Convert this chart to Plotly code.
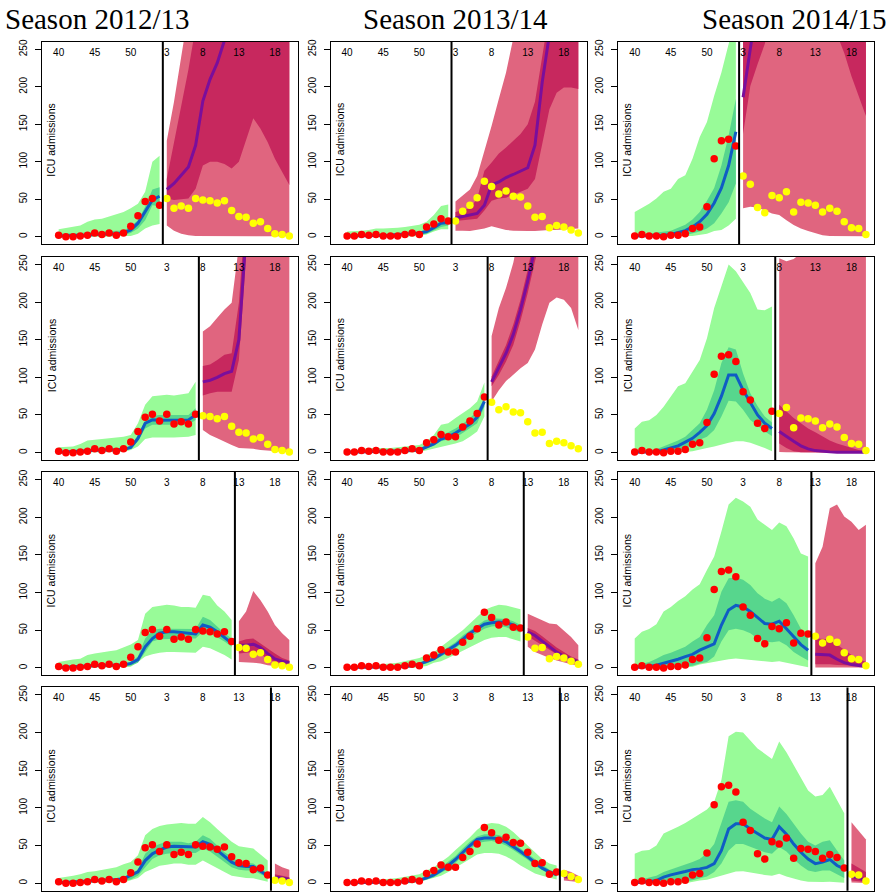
import plotly.graph_objects as go

# ---------------- data ----------------
WEEK_IDX = list(range(33))          # weeks 40..52, 1..20
TICK_IDX = [0, 5, 10, 15, 20, 25, 30]
TICK_LABELS = ["40", "45", "50", "3", "8", "13", "18"]
SEASONS = ["Season 2012/13", "Season 2013/14", "Season 2014/15"]
Y_TICKS = [0, 50, 100, 150, 200, 250]

OBS_1213 = [2,0,0,1,2,5,3,5,2,5,14,28,47,51,42,51,38,41,38,51,49,48,45,48,35,27,26,18,20,11,4,3,1]
OBS_1314 = [1,1,3,2,3,1,1,1,3,5,3,13,17,24,21,21,34,42,52,74,67,57,61,54,53,41,26,27,12,15,13,9,5]
OBS_1415 = [1,3,1,1,0,2,2,4,11,13,40,104,128,130,121,81,70,39,32,55,52,60,33,46,45,42,33,38,34,20,12,11,3]
OBS = [OBS_1213, OBS_1314, OBS_1415]

CUTS = [14, 19, 24, 29]   # last week index used for fitting, per row

# fitted bands (weeks 0..cut): hi95, hi50, med, lo50, lo95
FIT_R1C1 = dict(hi95=[10,12,13,15,20,23,24,27,30,33,38,44,60,100,108],
                hi50=[4,4,5,5,6,6,7,7,8,8,14,22,40,63,66],
                med=[1,1,1,2,2,3,3,4,4,5,9,18,33,49,54],
                lo50=[0,0,0,0,1,1,1,1,2,2,5,11,22,42,41],
                lo95=[0,0,0,0,0,0,0,0,0,1,1,4,11,15,17])
FIT_R1C2 = dict(hi95=[7,7,8,9,11,11,11,12,13,15,16,20,29,41,43],
                hi50=[3,3,4,4,4,4,4,5,5,6,7,9,14,22,23],
                med=[1,1,1,2,2,2,2,3,3,4,5,7,12,18,19],
                lo50=[0,0,0,0,1,1,1,1,1,2,3,4,8,13,15],
                lo95=[0,0,0,0,0,0,0,0,0,0,1,3,7,10,10])
FIT_R1C3 = dict(hi95=[33,38,44,51,60,64,77,82,104,133,153,188,219,257,300],
                hi50=[2,3,4,5,6,8,12,16,23,33,48,65,95,135,184],
                med=[1,1,1,1.5,2,3,5,8,13,20,30,45,65,95,140],
                lo50=[0,0,0,0,0,0,1,2,4,7,11,18,31,46,71],
                lo95=[0,0,0,0,0,0,0,1,1,2,4,7.5,9,15,24])
FIT_R2C1 = dict(hi95=[7,8,8,11.5,16,17,18,19,20,21,23.5,39,63.5,75,76,77,76,78,79,94],
                hi50=[2,2,2.5,3,4,5,5,5,6,6,9,23.5,43.5,49,50,50,50,50,50,59],
                med=[0.5,1,1,1.5,3,3.5,3.5,3.5,4,4,7,19,39,43.5,43,43,43.5,43.5,43.5,50],
                lo50=[0,0,0,0.5,1,1.5,2,2,2,3,5,15,32,37,37,37,37,37,37,43.5],
                lo95=[0,0,0,0,0,0.5,0.5,0.5,1,1,3.5,8,18,20,20,20,20,20,21,23.5])
FIT_R2C2 = dict(hi95=[2,3.5,4.5,6,6,6,6,7,8,9,10,15,23.5,37,39,46,52,59,68,93],
                hi50=[1,1.5,2,2.5,3,3,3,3.5,4,4,5,10,15,23.5,27,32,38,46,55,72],
                med=[0.5,0.7,1,1,1,1.3,1.5,2,2.5,2.7,3.5,8,11.5,18,21,26,32,38,47,68],
                lo50=[0,0,0,0.5,0.5,0.5,1,1,1,1.5,2,6,9,15,17,20,26,32,39,61],
                lo95=[0,0,0,0,0,0,0,0,0,0.5,1,3,6,8,10,12,15,21,28,48])
FIT_R2C3 = dict(hi95=[32,41,43,50,61,75,88,92,108,123,152,192,221,250,241,226,212,190,189,194],
                hi50=[1.5,2,3,4.5,8,12,16,21,30,39,57,83,119,140,137,105,79,62,48,40],
                med=[0.5,0.5,1,1,3.5,6,9,14,19,27,36,52,75,103,103,83,66,50,39,32],
                lo50=[0,0,0,0,0.5,1,2,6,10,17,21,30,48,69,68,57,43.5,36,28,22],
                lo95=[0,0,0,0,0,0,0.5,1,2,3.5,6,8,11,13,15,15,13,10,6,2])
FIT_R3C1 = dict(hi95=[8,10,11,12,17,19,20,22,23.5,27,31,37,72,81,83,84,83,81,81,80,97,95,83,75,63.5],
                hi50=[2,3,3,3.5,4,5,5,5.5,6,6,8,15,39,50,52,52,52,52,52,51.5,68,63.5,55,46,39],
                med=[0.5,1,1,1.5,2,3.5,3.5,3.5,3.5,4,6,11,28,39,46,48,48,47,46,45,57,54,48,41,33],
                lo50=[0,0,0,0.5,1,1.5,2,2,2,2.5,3,7,21,35,38,39,39,39,39,39,48,46,41,35,28],
                lo95=[0,0,0,0,0,0.5,0.5,0.5,1,1,1.5,8,15,18,20,21,21,21,20.5,20,28,26,21,17,11])
FIT_R3C2 = dict(hi95=[2,2.5,3,3.5,4,5,6,7,9,11,13,17,21,28,35,43,50,59,68,77,81,84,83,81,78],
                hi50=[1,1,1,1.5,1.5,2,2,2.5,3,4,6.5,10,15,21,27,34,43,50,57,63,66,66,65,62,57],
                med=[0.5,0.5,0.5,0.7,0.8,1,1.2,1.5,2,3,5,8,12,18,23.5,30,38,46,52,58,60,61,60,57,52],
                lo50=[0,0,0,0,0.3,0.5,0.7,1,1.3,2,3.5,6,10,15,20,26,33,41,47,52,55,56,54,51,47],
                lo95=[0,0,0,0,0,0,0,0,0,0,1,2.5,7,9,13,18,22,28,32,37,40,41,41,38,35])
FIT_R3C3 = dict(hi95=[39,48,51.5,58,75,81,89,95,104,111,130,148,181,217,226,221,214,197,190,183,193,188,172,152,148],
                hi50=[3,5,8,12,17,20,23.5,28,35,41,57,70,101,119,120,117,110,99,92,88,93,86,70,52,43.5],
                med=[0.5,1,2,3.5,6,9,11.5,15,18,23.5,28,32,57,77,83,81,75,67,59,58,62,52,41,31,23.5],
                lo50=[0,0,0,0.5,1,1.5,2,2,3,6,8,15,35,50,52,50,46,39,35,34,35.5,30,21,15,10],
                lo95=[0,0,0,0,0,0,0,0.5,1.5,4.5,6,8,10,11.5,12.5,12.5,11.5,10,9,8,9,7,5,2.7,1])
FIT_R4C1 = dict(hi95=[7,8,10,12,15,16,18,19,21,25,28,37,63.5,72,76,78,79,80,79,79,88,81,72,63.5,55,49,47,46,38,30],
                hi50=[2,2.5,3,3.5,4,4.5,5,5.5,6,7,12,18,39,48,52,55,55,55,53,55,63.5,59,50,41,35,28,27,26,20,13],
                med=[0.5,1,1,1.5,2,3,3.5,4,5,6,10,15,30,39,44,48,49,48.5,48,48,55,51.5,43.5,35.5,28,23.5,22,22,16,10],
                lo50=[0,0,0,0.5,1,1.5,2,2.5,3,3.5,5,10,21,32,37,39,40,40,40,40,46,42,35,28,21,18,17,17,11.5,7],
                lo95=[0,0,0,0,0,0.5,0.5,1,1,1,3.5,7,15,19,23,24.5,26,26,24.5,24.5,30,26,20,15,10,8,7,6.5,4.5,2])
FIT_R4C2 = dict(hi95=[2,2.5,3,3.5,4,5,6,7,9,10,12,17,21,28,35,44,52,61,71,78,80,79,75,68,59,50,41,32,26,23.5],
                hi50=[1,1,1,1.5,1.5,2,2,2.5,3,4,6,9,14,21,28,36,46,55,62,65,65,64,60,54,46,39,31,24,18,14],
                med=[0.5,0.5,0.5,0.7,0.8,1,1.2,1.5,2,3,4,7,11,17,23.5,31.5,41,50,58,60,60,59,55,49,42,35,27,20,15,11.5],
                lo50=[0,0,0,0,0.3,0.5,0.7,1,1.3,2,3,5,8,14,19,27,36,45,53,55,56,54,50,44,38,31,23,17,12,9],
                lo95=[0,0,0,0,0,0,0,0,0,0,1.5,3.5,7,10,15,20,26,32,38,40,40,39,35.5,30,23.5,18,13,10,7,5])
FIT_R4C3 = dict(hi95=[39,43,44,50,66,70,75,80,86,91,98,108,137,195,201,200,190,179,172,165,188,174,157,139,123,115,117,128,110,93],
                hi50=[3,5,7,10,15,18,21,25,28,32,40,52,81,108,110,108,99,92,86,81,102,92,79,66,55,50,55,57,43.5,30],
                med=[0.5,1,2,3.5,8,11,13,15.5,18,19,21,26,43.5,72,79,79,72,66,60,58,75,65,52,41,32,26,28,31.5,23.5,19],
                lo50=[0,0,0,0.5,1,1.5,2,2,4,7,9,15,26,43.5,52,52,49,45,41,39,48,42,32,23.5,17,15,17,17,12.5,7],
                lo95=[0,0,0,0,0,0,0,0,2,3.5,4.5,7,10,13,15.5,16,15,12.5,11,10,12.5,9,6,3.5,2,1.5,1.5,2,1,0.5])

# forecast bands (weeks cut+1..32)
FC_R1C1 = dict(hi95=[128,180,240,300,400,450,500,520,540,560,580,600,620,640,660,680,700,720],
               hi50=[77,126,175,223,280,320,350,380,400,420,440,460,480,500,520,540,560,580],
               med=[63,71,82,93,122,181,210,232,262,290,310,330,350,370,390,400,410,420],
               lo50=[51,49,50,51,64,95,100,100,97,91,100,130,158,144,126,104,86,69],
               lo95=[15,8,4,2,1,0.5,0.5,0.5,0.5,0.5,0.5,0.5,0.5,0.5,0.5,0.5,0.5,0.5])
FC_R1C2 = dict(hi95=[47,55,63,81,113,148,184,219,265,320,360,400,440,480,520,560,600,640],
               hi50=[33,35,38,51,88,99,111,119,128,137,150,180,240,300,330,350,370,390],
               med=[25,27,29,31,42,69,73,79,83,87,92,122,206,270,300,320,340,360],
               lo50=[21,22,23,24,35,48,51,52,55,60,64,77,122,170,192,199,199,197],
               lo95=[8,8,7.5,9,11,14,11,9,8,7.5,7.5,7.5,8,9,9,9,10,11])
FC_R1C3 = dict(hi95=[600,660,720,780,840,900,940,980,1000,1020,1040,1060,1080,1100,1120,1140,1160,1180],
               hi50=[400,450,500,550,600,620,640,660,680,700,720,740,760,780,800,820,840,860],
               med=[186,262,320,380,420,450,470,490,500,510,520,530,540,550,560,570,580,590],
               lo50=[137,201,230,257,300,320,330,330,320,310,300,290,280,270,245,214,188,161],
               lo95=[38,40,39,35,31,29,22,15.5,11,7.5,4.4,2,1,0.5,0.5,0.5,0.5,0.5])
FC_R2C1 = dict(hi95=[161,168,179,190,199,300,400,450,500,550,600,650,700],
               hi50=[115,117,123,130,132,199,330,370,400,430,450,470,490],
               med=[94,96,100,105,108,150,290,330,360,390,410,430,450],
               lo50=[76,79,81,81,81,123,261,290,320,350,370,390,410],
               lo95=[30,23.5,19,15,10,6,5.5,5,3.5,3,2,1,0.5])
FC_R2C2 = dict(hi95=[155,192,219,252,300,350,400,450,500,550,600,650,700],
               hi50=[101,121,143,170,203,243,300,340,380,420,450,480,510],
               med=[94,112,132,157,190,228,280,320,360,400,430,460,490],
               lo50=[88,103,121,143,175,212,254,290,330,370,400,430,460],
               lo95=[68,83,95,103,112,119,137,170,199,206,203,192,163])
FC_R2C3 = dict(hi95=[258,254,257,265,270,270,270,270,270,270,270,270,270],
               hi50=[63.5,55,46,39,32,27,21,16,12,9,6,3.5,2],
               med=[28,21,15,9,5,2.7,1.5,1,0.5,0.5,0.5,0.5,0.5],
               lo50=[12,6,2,0.5,0.5,0.3,0.2,0.2,0.2,0.2,0.2,0.2,0.2],
               lo95=[1,0.5,0.5,0,0,0,0,0,0,0,0,0,0])
FC_R3C1 = dict(hi95=[62,75,102,90,75,57,46,37],
               hi50=[35,38,39,32,26,19,13,10],
               med=[30,30,31.5,27,19,12,9,7],
               lo50=[19,20,21,18,12,8,6,4.5],
               lo95=[8,8,7,6,3.5,2.5,1.5,1])
FC_R3C2 = dict(hi95=[72,68,63.5,59,58,50,41,30],
               hi50=[53,49,42,34,27,21,15,11],
               med=[48,43,35.5,28,21,15.5,11.5,8],
               lo50=[42,37,30,24,18,13,9,6],
               lo95=[28,21,17,13,10,7,5,2.7])
FC_R3C3 = dict(hi95=[139,161,212,217,201,194,183,190],
               hi50=[39,39,38,31,23.5,17,12,8],
               med=[18,17,17,11.5,7,4.5,3,2],
               lo50=[5,5,5,4,3.5,3,2.7,2.5],
               lo95=[0.5,0.5,0.5,0.5,0.5,0.5,0.5,0.5])
FC_R4C1 = dict(hi95=[26,21,18], hi50=[12,10,8], med=[8,7,5], lo50=[5,4.5,3.5], lo95=[3,2,1.5])
FC_R4C2 = dict(hi95=[18,15,10], hi50=[12,10,7], med=[10,8,5], lo50=[7,5,3], lo95=[3.5,2.5,1.5])
FC_R4C3 = dict(hi95=[81,70,58], hi50=[26,21,15], med=[9,7,3.5], lo50=[3.5,2.5,1.5], lo95=[1,0.5,0.3])

FITS = [[FIT_R1C1, FIT_R1C2, FIT_R1C3], [FIT_R2C1, FIT_R2C2, FIT_R2C3],
        [FIT_R3C1, FIT_R3C2, FIT_R3C3], [FIT_R4C1, FIT_R4C2, FIT_R4C3]]
FCS = [[FC_R1C1, FC_R1C2, FC_R1C3], [FC_R2C1, FC_R2C2, FC_R2C3],
       [FC_R3C1, FC_R3C2, FC_R3C3], [FC_R4C1, FC_R4C2, FC_R4C3]]

# ---------------- style ----------------
LIGHT_GREEN = "#98FB98"
DARK_GREEN = "#57D68D"
BLUE = "#0F5CC4"
LIGHT_PINK = "#E0657F"
DARK_PINK = "#C7285E"
PURPLE = "#7A0E9C"
RED = "#FF0000"
YELLOW = "#FFFF00"
SANS = "Liberation Sans, Arial, sans-serif"
SERIF = "Liberation Serif, Times New Roman, serif"

W, H = 890, 894
COL_PX = [(42.3, 297.7), (330.7, 586.7), (618.3, 874.3)]
ROW_PX = [(39, 242), (254.7, 458.7), (470.7, 674.7), (686.7, 890.7)]
X_RANGE = [-2.27, 33.16]
Y_RANGE = [-10, 260]

fig = go.Figure()


def band(xs, hi, lo, color, xa, ya):
    return go.Scatter(x=xs + xs[::-1], y=hi + lo[::-1], fill="toself", mode="lines",
                      line=dict(width=0), fillcolor=color, hoverinfo="skip",
                      showlegend=False, xaxis=xa, yaxis=ya)


layout_axes = {}
annotations = []
shapes = []
for r in range(4):
    cut = CUTS[r]
    for c in range(3):
        k = r * 3 + c + 1
        xa = "x" if k == 1 else f"x{k}"
        ya = "y" if k == 1 else f"y{k}"
        fit = FITS[r][c]
        fc = FCS[r][c]
        obs = OBS[c]
        xf = WEEK_IDX[:cut + 1]
        xp = WEEK_IDX[cut + 1:]
        for key in fit:
            assert len(fit[key]) == len(xf), (r, c, key, len(fit[key]))
        for key in fc:
            assert len(fc[key]) == len(xp), (r, c, key, len(fc[key]))

        fig.add_trace(band(xf, fit["hi95"], fit["lo95"], LIGHT_GREEN, xa, ya))
        fig.add_trace(band(xf, fit["hi50"], fit["lo50"], DARK_GREEN, xa, ya))
        fig.add_trace(go.Scatter(x=xf, y=fit["med"], mode="lines", line=dict(color=BLUE, width=3),
                                 showlegend=False, xaxis=xa, yaxis=ya))
        fig.add_trace(go.Scatter(x=xf, y=obs[:cut + 1], mode="markers",
                                 marker=dict(color=RED, size=7.5, line=dict(width=0)),
                                 showlegend=False, xaxis=xa, yaxis=ya))
        fig.add_trace(band(xp, fc["hi95"], fc["lo95"], LIGHT_PINK, xa, ya))
        fig.add_trace(band(xp, fc["hi50"], fc["lo50"], DARK_PINK, xa, ya))
        fig.add_trace(go.Scatter(x=xp, y=fc["med"], mode="lines", line=dict(color=PURPLE, width=3),
                                 showlegend=False, xaxis=xa, yaxis=ya))
        fig.add_trace(go.Scatter(x=xp, y=obs[cut + 1:], mode="markers",
                                 marker=dict(color=YELLOW, size=7.5, line=dict(width=0)),
                                 showlegend=False, xaxis=xa, yaxis=ya))
        fig.add_trace(go.Scatter(x=TICK_IDX, y=[245] * len(TICK_IDX), text=TICK_LABELS,
                                 mode="text", textfont=dict(family=SANS, size=10, color="black"),
                                 textposition="middle center", cliponaxis=False,
                                 showlegend=False, xaxis=xa, yaxis=ya))
        shapes.append(dict(type="line", xref=xa, yref=f"{ya} domain", x0=cut + 0.45, x1=cut + 0.45,
                           y0=0, y1=1, line=dict(color="black", width=2), layer="above"))
        annotations.append(dict(text="ICU admissions", x=-1, y=130, xref=xa, yref=ya,
                                textangle=-90, showarrow=False,
                                font=dict(family=SANS, size=10.5, color="black")))

        x0, x1 = COL_PX[c]
        y0, y1 = ROW_PX[r]
        xname = "xaxis" if k == 1 else f"xaxis{k}"
        yname = "yaxis" if k == 1 else f"yaxis{k}"
        layout_axes[xname] = dict(domain=[x0 / W, x1 / W], range=X_RANGE, anchor=ya,
                                  showgrid=False, zeroline=False, showticklabels=False, ticks="",
                                  showline=True, mirror=True, linecolor="black", linewidth=1)
        layout_axes[yname] = dict(domain=[1 - y1 / H, 1 - y0 / H], range=Y_RANGE, anchor=xa,
                                  showgrid=False, zeroline=False, tickvals=Y_TICKS,
                                  ticktext=[str(v) for v in Y_TICKS],
                                  ticks="outside", ticklen=6, tickcolor="black", tickangle=-90,
                                  ticklabelstandoff=4,
                                  tickfont=dict(family=SANS, size=10, color="black"),
                                  showline=True, mirror=True, linecolor="black", linewidth=1)

title_pos = [(3, "left"), (455, "center"), (888, "right")]
for (px, anchor), s in zip(title_pos, SEASONS):
    annotations.append(dict(text=s, x=px / W, y=1 - 16 / H, xref="paper", yref="paper",
                            xanchor=anchor, yanchor="middle", showarrow=False,
                            font=dict(family=SERIF, size=29, color="black")))

fig.update_layout(width=W, height=H, margin=dict(l=0, r=0, t=0, b=0),
                  paper_bgcolor="white", plot_bgcolor="white", showlegend=False,
                  hovermode=False, annotations=annotations, shapes=shapes, **layout_axes)

fig.write_html("out.html", config={"displayModeBar": False, "staticPlot": True},
               post_script="document.body.style.margin='0px';")
